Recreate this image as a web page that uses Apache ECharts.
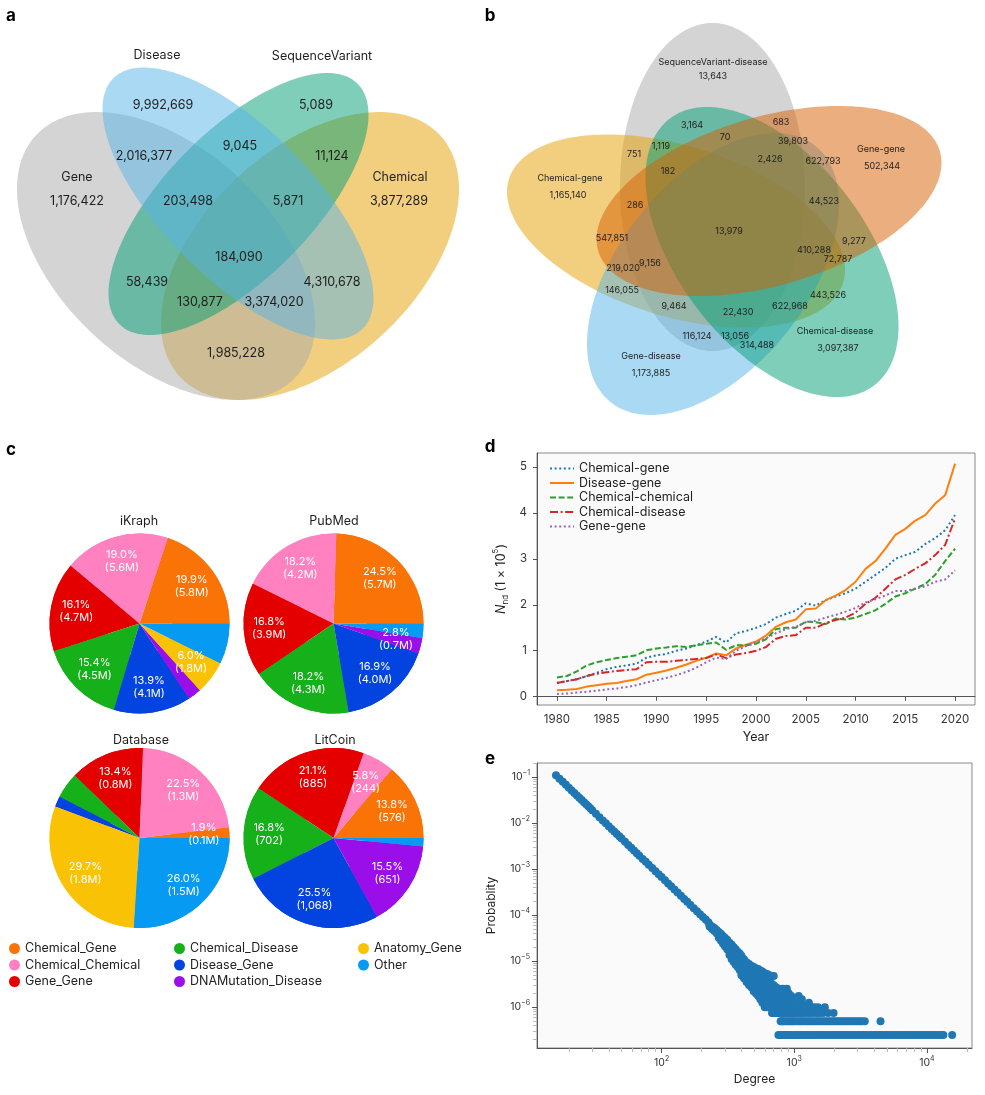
<!DOCTYPE html>
<html>
<head>
<meta charset="utf-8">
<script src="https://cdn.jsdelivr.net/npm/echarts@6/dist/echarts.min.js"></script>
<style>html,body{margin:0;padding:0;background:#fff}#c{width:985px;height:1095px}</style>
</head>
<body>
<div id="c"></div>
<script>
const FONT = 'Inter, "Noto Sans", sans-serif';
const fmt = n => n.toLocaleString('en-US');

// ---------------- Panel a (4-set Venn) ----------------
const vennASetNames = ['Gene', 'Disease', 'SequenceVariant', 'Chemical'];
const vennARegionCounts = [1176422, 9992669, 5089, 3877289, 2016377, 9045, 11124, 203498, 5871, 184090, 58439, 4310678, 130877, 3374020, 1985228];

// ---------------- Panel b (5-set Venn) ----------------
const vennBSetNames = ['SequenceVariant-disease', 'Gene-gene', 'Chemical-gene', 'Chemical-disease', 'Gene-disease'];
const vennBSetOnlyCounts = [13643, 502344, 1165140, 3097387, 1173885];
const vennBRegionCounts = [3164, 683, 70, 39803, 1119, 751, 2426, 622793, 182, 44523, 286, 13979, 547851, 9277, 410288, 72787, 219020, 9156, 146055, 443526, 9464, 622968, 22430, 116124, 13056, 314488];

// ---------------- Panel c (pies) ----------------
const pieCategories = ['Chemical_Gene', 'Chemical_Chemical', 'Gene_Gene', 'Chemical_Disease', 'Disease_Gene', 'DNAMutation_Disease', 'Anatomy_Gene', 'Other'];
const ikraphPct   = [19.9, 19.0, 16.1, 15.4, 13.9, 2.4, 6.0, 7.3];
const ikraphCount = ['5.8M', '5.6M', '4.7M', '4.5M', '4.1M', '', '1.8M', '2.1M'];
const pubmedPct   = [24.5, 18.2, 16.8, 18.2, 16.9, 2.8, 0, 2.6];
const pubmedCount = ['5.7M', '4.2M', '3.9M', '4.3M', '4.0M', '0.7M', '', ''];
const databasePct   = [1.9, 22.5, 13.4, 4.6, 1.9, 0, 29.7, 26.0];
const databaseCount = ['0.1M', '1.3M', '0.8M', '0.3M', '', '', '1.8M', '1.5M'];
const litcoinPct   = [13.8, 5.8, 21.1, 16.8, 25.5, 15.5, 0, 1.5];
const litcoinCount = ['576', '244', '885', '702', '1,068', '651', '', ''];

// ---------------- Panel d (lines) ----------------
const years = [1980,1981,1982,1983,1984,1985,1986,1987,1988,1989,1990,1991,1992,1993,1994,1995,1996,1997,1998,1999,2000,2001,2002,2003,2004,2005,2006,2007,2008,2009,2010,2011,2012,2013,2014,2015,2016,2017,2018,2019,2020];
const chemicalGene     = [0.30,0.34,0.38,0.45,0.52,0.60,0.65,0.68,0.72,0.85,0.90,0.93,1.00,1.05,1.12,1.20,1.30,1.18,1.38,1.43,1.50,1.58,1.72,1.80,1.87,2.03,1.98,2.10,2.18,2.25,2.35,2.50,2.65,2.80,3.00,3.08,3.15,3.32,3.45,3.62,3.95];
const diseaseGene      = [0.14,0.15,0.17,0.22,0.25,0.28,0.30,0.34,0.38,0.48,0.52,0.57,0.63,0.70,0.78,0.85,0.94,0.90,1.05,1.13,1.20,1.33,1.52,1.62,1.68,1.90,1.92,2.10,2.20,2.32,2.50,2.78,2.95,3.22,3.52,3.65,3.83,3.95,4.20,4.38,5.07];
const chemicalChemical = [0.42,0.45,0.55,0.68,0.75,0.80,0.84,0.87,0.90,1.01,1.05,1.07,1.10,1.08,1.12,1.15,1.18,1.02,1.12,1.12,1.15,1.25,1.47,1.50,1.50,1.63,1.62,1.58,1.70,1.68,1.72,1.80,1.88,2.02,2.18,2.25,2.35,2.45,2.65,2.95,3.22];
const chemicalDisease  = [0.30,0.34,0.38,0.45,0.50,0.53,0.56,0.58,0.60,0.75,0.76,0.76,0.78,0.80,0.82,0.84,0.92,0.84,0.92,0.95,1.00,1.08,1.26,1.32,1.34,1.50,1.50,1.60,1.67,1.72,1.83,2.02,2.15,2.35,2.55,2.65,2.78,2.90,3.08,3.30,3.88];
const geneGene         = [0.06,0.07,0.09,0.11,0.13,0.16,0.18,0.21,0.25,0.31,0.36,0.41,0.47,0.54,0.63,0.75,0.85,0.82,1.00,1.10,1.18,1.27,1.38,1.47,1.52,1.62,1.65,1.72,1.78,1.85,1.93,2.05,2.12,2.20,2.30,2.30,2.35,2.40,2.50,2.55,2.75];
const lineNames = ['Chemical-gene', 'Disease-gene', 'Chemical-chemical', 'Chemical-disease', 'Gene-gene'];
const yearTicks = [1980, 1985, 1990, 1995, 2000, 2005, 2010, 2015, 2020];
const nTicks = [0, 1, 2, 3, 4, 5];

// ---------------- Panel e (degree distribution) ----------------
const headDegree = [16,17,18,19,20,21,22,23,24,25,26,27,28,29,30,32,34,36,38,40,42,44,46,48,50,53,56,59,62,65,68,72,76,80,85,90,95,100,106,112,118,125,132,140,148,156,165,175,185,195,205,215,225];
const headProb = [0.109,0.092,0.0785,0.0675,0.0586,0.0511,0.0449,0.0397,0.0353,0.0315,0.0282,0.0254,0.0230,0.0208,0.0190,0.0159,0.0134,0.0114,0.00983,0.00852,0.00744,0.00654,0.00578,0.00514,0.00458,0.00390,0.00334,0.00289,0.00252,0.00221,0.00195,0.00166,0.00143,0.00124,0.00105,0.000895,0.00077,0.000667,0.000568,0.000487,0.000421,0.000359,0.000308,0.000262,0.000224,0.000194,0.000166,0.000141,0.000121,0.000104,0.0000907,0.0000795,0.0000700];
const tailCloud = [
  [230, [6.2e-5, 5.6e-5]], [240, [5.6e-5, 5.0e-5]], [250, [5.2e-5, 4.5e-5]], [260, [4.7e-5, 4.0e-5]],
  [270, [4.3e-5, 3.6e-5, 3.2e-5]], [280, [3.9e-5, 3.3e-5, 2.8e-5]], [290, [3.5e-5, 2.9e-5, 2.4e-5]],
  [300, [3.2e-5, 2.6e-5, 2.1e-5]], [312, [2.9e-5, 2.3e-5, 1.8e-5]], [325, [2.5e-5, 2.0e-5, 1.6e-5, 1.35e-5]],
  [338, [2.25e-5, 1.8e-5, 1.4e-5, 1.1e-5]], [350, [2.0e-5, 1.6e-5, 1.25e-5, 9.5e-6]], [362, [1.8e-5, 1.4e-5, 1.1e-5, 8.3e-6]],
  [375, [1.6e-5, 1.25e-5, 9.6e-6, 7.4e-6]], [388, [1.45e-5, 1.1e-5, 8.5e-6, 6.4e-6]], [400, [1.3e-5, 1.0e-5, 7.6e-6, 5.7e-6, 4.9e-6]],
  [418, [1.1e-5, 8.6e-6, 6.6e-6, 5.2e-6, 4.2e-6]], [437, [9.4e-6, 7.4e-6, 5.7e-6, 4.4e-6, 3.5e-6]],
  [456, [8.6e-6, 6.7e-6, 5.2e-6, 4.0e-6, 3.0e-6]], [475, [7.9e-6, 6.2e-6, 4.7e-6, 3.5e-6, 2.7e-6]],
  [495, [7.4e-6, 5.7e-6, 4.4e-6, 3.2e-6, 2.5e-6, 2.2e-6]], [515, [7.0e-6, 5.4e-6, 4.0e-6, 3.0e-6, 2.2e-6, 1.98e-6]],
  [535, [6.7e-6, 5.2e-6, 3.7e-6, 2.7e-6, 1.98e-6, 1.73e-6]], [555, [6.2e-6, 4.9e-6, 3.5e-6, 2.5e-6, 1.73e-6, 1.48e-6]],
  [575, [5.9e-6, 4.4e-6, 3.2e-6, 2.2e-6, 1.73e-6, 1.48e-6, 1.24e-6]], [600, [5.4e-6, 4.2e-6, 2.96e-6, 2.2e-6, 1.48e-6, 1.24e-6, 9.9e-7]],
  [625, [5.2e-6, 3.7e-6, 2.7e-6, 1.98e-6, 1.48e-6, 1.24e-6, 9.9e-7]], [650, [4.9e-6, 3.5e-6, 2.5e-6, 1.73e-6, 1.24e-6, 9.9e-7]],
  [675, [4.7e-6, 3.2e-6, 2.2e-6, 1.73e-6, 1.24e-6, 9.9e-7]], [700, [4.7e-6, 2.96e-6, 2.2e-6, 1.48e-6, 9.9e-7]],
  [730, [2.7e-6, 1.98e-6, 1.48e-6, 9.9e-7]], [760, [2.5e-6, 1.73e-6, 1.24e-6, 9.9e-7]], [790, [2.2e-6, 1.48e-6, 9.9e-7]],
  [820, [2.5e-6, 1.73e-6, 1.24e-6]], [850, [1.98e-6, 1.48e-6, 9.9e-7]], [880, [2.5e-6, 1.24e-6]], [910, [1.98e-6, 1.48e-6, 9.9e-7]],
  [950, [1.73e-6, 1.24e-6]], [990, [1.48e-6, 9.9e-7]], [1030, [1.24e-6]], [1080, [1.73e-6, 9.9e-7]], [1140, [1.48e-6, 1.24e-6]],
  [1200, [9.9e-7]], [1290, [1.24e-6]], [1340, [9.9e-7]], [1420, [9.9e-7]], [1510, [9.9e-7]], [1700, [9.9e-7]]
];
const levelProb = [2.47e-7, 4.94e-7, 7.41e-7];
const band1Degree = [760,790,820,850,880,910,950,990,1030,1070,1110,1160,1210,1260,1310,1370,1430,1490,1560,1630,1700,1780,1860,1940,2030,2120,2220,2320,2430,2540,2660,2790,2920,3060,3200,3350,3500,3660,3830,4010,4200,4400,4600,4820,5050,5300,5550,5800,6100,6400,6700,7000,7300,7700,8000,8400,8800,9200,9600,10100,10600,11100,11600,12200,12800,13300,15500];
const band2Degree = [790,810,830,860,890,920,950,980,1010,1050,1090,1130,1170,1220,1270,1320,1370,1430,1490,1550,1620,1690,1760,1840,1920,2000,2090,2180,2280,2380,2490,2600,2720,2840,2970,3100,3240,3400,4470];
const band3Degree = [680,700,720,740,760,780,800,830,860,890,920,950,990,1030,1070,1110,1160,1210,1270,1330,1400,1480,1560,1650,1800,1980];
const degreeTickExp = [2, 3, 4];
const probTickExp = [-1, -2, -3, -4, -5, -6];

// ================= layout / style =================
const TXT = '#1e1e1e';
function ellipsePts(e) {
  const l21 = e.sxy / e.W, l22 = Math.sqrt(e.H * e.H - l21 * l21);
  const pts = [];
  for (let i = 0; i < 200; i++) {
    const t = i / 200 * Math.PI * 2;
    pts.push([e.c[0] + e.W * Math.cos(t), e.c[1] + l21 * Math.cos(t) + l22 * Math.sin(t)]);
  }
  return pts;
}
const vennAEllipses = [
  {c: [310, 256], W: 149, H: 144, sxy: -10000, fill: 'rgba(230,159,0,0.5)'},
  {c: [166, 256], W: 149, H: 144, sxy: 10000, fill: 'rgba(169,169,169,0.5)'},
  {c: [238.5, 204], W: 130, H: 131, sxy: -11600, fill: 'rgba(0,158,115,0.5)'},
  {c: [238, 203.5], W: 135.5, H: 136, sxy: 12800, fill: 'rgba(86,180,233,0.5)'}
];
const vennASetNamePos = [[77, 177], [157, 55], [322, 56], [400, 177]];
const vennARegionPos = [[77,201],[163,105],[316,105],[399,201],[144,156],[240,146],[332,156],[188,201],[288,201],[239,257],[147,282],[332,282],[200,302],[274,302],[236,353]];

const vennBEllipses = [
  {c: [712.5, 187], W: 92.5, H: 164, sxy: 0, fill: 'rgba(169,169,169,0.5)'},
  {c: [676, 231], W: 169, H: 96.5, sxy: 6600, fill: 'rgba(230,159,0,0.5)'},
  {c: [713, 274], W: 126, H: 141, sxy: -8800, fill: 'rgba(86,180,233,0.5)'},
  {c: [772, 252], W: 126.5, H: 145, sxy: 9400, fill: 'rgba(0,158,115,0.5)'},
  {c: [769, 201], W: 172.5, H: 95, sxy: -6600, fill: 'rgba(213,94,0,0.5)'}
];
const vennBSetNamePos = [[713, 62], [881, 149], [570, 178], [835, 331], [651, 356]];
const vennBSetCountPos = [[713, 76], [882, 166], [568, 195], [838, 348], [651, 373]];
const vennBRegionPos = [[692,125],[781,122],[725,137],[793,141],[661,146],[634,154],[770,159],[823,161],[668,171],[824,201],[635,205],[729,231],[612,238],[854,241],[814,250],[838,259],[623,268],[650,263],[622,290],[828,295],[674,306],[790,306],[738,312],[697,336],[735,336],[757,345]];

function txt(x, y, s, size, extra) {
  return {
    type: 'text', x: x, y: y, z: 10,
    style: Object.assign({text: s, fill: TXT, fontSize: size, fontFamily: FONT,
      textAlign: 'center', textVerticalAlign: 'middle', align: 'center', verticalAlign: 'middle'}, extra || {})
  };
}

const graphics = [];
vennAEllipses.forEach(e => graphics.push({type: 'polygon', z: 1, shape: {points: ellipsePts(e)}, style: {fill: e.fill}}));
vennBEllipses.forEach(e => graphics.push({type: 'polygon', z: 1, shape: {points: ellipsePts(e)}, style: {fill: e.fill}}));
vennASetNames.forEach((n, i) => graphics.push(txt(vennASetNamePos[i][0], vennASetNamePos[i][1], n, 12.5)));
vennARegionCounts.forEach((v, i) => graphics.push(txt(vennARegionPos[i][0], vennARegionPos[i][1], fmt(v), 12.5)));
vennBSetNames.forEach((n, i) => graphics.push(txt(vennBSetNamePos[i][0], vennBSetNamePos[i][1], n, 9)));
vennBSetOnlyCounts.forEach((v, i) => graphics.push(txt(vennBSetCountPos[i][0], vennBSetCountPos[i][1], fmt(v), 9)));
vennBRegionCounts.forEach((v, i) => graphics.push(txt(vennBRegionPos[i][0], vennBRegionPos[i][1], fmt(v), 9)));
[['a', 11, 16], ['b', 490, 16], ['c', 11, 450], ['d', 490, 447], ['e', 490, 759]].forEach(p =>
  graphics.push(txt(p[1], p[2], p[0], 17, {fontWeight: 'bold', fill: '#000'})));
[['iKraph', 139, 521], ['PubMed', 334, 521], ['Database', 141, 740], ['LitCoin', 335, 740]].forEach(p =>
  graphics.push(txt(p[1], p[2], p[0], 12.5)));

// ================= pies =================
const pieColors = ['#f97306', '#ff81c0', '#e50000', '#15b01a', '#0343df', '#9a0eea', '#fac205', '#069af3'];
function pieSeries(pct, cnt, cx, cy) {
  const base = pieCategories.map((c, i) => ({name: c, value: pct[i], itemStyle: {color: pieColors[i]}}));
  const labelled = pieCategories.map((c, i) => ({
    name: c, value: pct[i], itemStyle: {color: pieColors[i]},
    label: {show: cnt[i] !== '', formatter: pct[i].toFixed(1) + '%\n(' + cnt[i] + ')'}
  }));
  const common = {type: 'pie', center: [cx, cy], startAngle: 0, clockwise: false, silent: true,
    labelLine: {show: false}, emphasis: {disabled: true}, avoidLabelOverlap: false};
  return [
    Object.assign({}, common, {radius: [0, 90], data: base, label: {show: false}}),
    Object.assign({}, common, {radius: [33, 90], data: labelled,
      label: {position: 'inside', color: '#fff', fontSize: 11, lineHeight: 13, fontFamily: FONT}})
  ];
}

// ================= axes =================
const supRich = {
  b: {fontSize: 10.5, fontFamily: FONT, color: '#333', lineHeight: 15},
  s: {fontSize: 7, fontFamily: FONT, color: '#333', lineHeight: 8, verticalAlign: 'top'}
};
const expLabel = v => { const n = Math.round(v); return '{b|10}{s|' + (n < 0 ? '\u2212' + (-n) : n) + '}'; };
const xMinor = [], yMinor = [];
[1, 2, 3, 4].forEach(d => { for (let k = 2; k <= 9; k++) { const v = d + Math.log10(k); if (v > 1.061 && v < 4.34) xMinor.push(v); } });
[-7, -6, -5, -4, -3, -2, -1].forEach(d => { for (let k = 2; k <= 9; k++) { const v = d + Math.log10(k); if (v > -6.89 && v < -0.696) yMinor.push(v); } });

const axisBase = {
  axisLine: {show: true, lineStyle: {color: '#555', width: 1}},
  splitLine: {show: false}
};

const xAxis = [
  Object.assign({}, axisBase, {type: 'value', gridIndex: 0, min: 1978, max: 2022,
    name: 'Year', nameLocation: 'middle', nameGap: 26, nameTextStyle: {fontSize: 12.5, color: '#222', fontFamily: FONT},
    axisTick: {show: true, customValues: yearTicks, length: 4, lineStyle: {color: '#555'}},
    axisLabel: {customValues: yearTicks, margin: 9, fontSize: 11.5, color: '#333', fontFamily: FONT, formatter: v => String(Math.round(v))}}),
  Object.assign({}, axisBase, {type: 'value', gridIndex: 1, min: 1.061, max: 4.34,
    name: 'Degree', nameLocation: 'middle', nameGap: 25, nameTextStyle: {fontSize: 12, color: '#222', fontFamily: FONT},
    axisTick: {show: true, customValues: degreeTickExp, length: 5, lineStyle: {color: '#555'}},
    axisLabel: {customValues: degreeTickExp, margin: 7, formatter: expLabel, rich: supRich}}),
  {type: 'value', gridIndex: 1, min: 1.061, max: 4.34, position: 'bottom',
    axisLine: {show: false}, splitLine: {show: false}, axisLabel: {show: false},
    axisTick: {show: true, customValues: xMinor, length: 4, lineStyle: {color: '#bbb'}}}
];
const yAxis = [
  Object.assign({}, axisBase, {type: 'value', gridIndex: 0, min: -0.18, max: 5.3,
    name: '{i|N}{sub|nd}{t| (1 \u00d7 10}{sup|5}{t|)}', nameLocation: 'middle', nameGap: 27, nameRotate: 90,
    nameTextStyle: {rich: {
      i: {fontSize: 12.5, fontStyle: 'italic', color: '#222', fontFamily: FONT, lineHeight: 18},
      sub: {fontSize: 8, color: '#222', fontFamily: FONT, lineHeight: 10, verticalAlign: 'bottom'},
      t: {fontSize: 12.5, color: '#222', fontFamily: FONT, lineHeight: 18},
      sup: {fontSize: 8, color: '#222', fontFamily: FONT, lineHeight: 10, verticalAlign: 'top'}}},
    axisTick: {show: true, customValues: nTicks, length: 4, lineStyle: {color: '#555'}},
    axisLabel: {customValues: nTicks, margin: 10, fontSize: 11.5, color: '#333', fontFamily: FONT, formatter: v => String(Math.round(v))}}),
  Object.assign({}, axisBase, {type: 'value', gridIndex: 1, min: -6.89, max: -0.696,
    name: 'Probablity', nameLocation: 'middle', nameGap: 40, nameRotate: 90, nameTextStyle: {fontSize: 12, color: '#222', fontFamily: FONT},
    axisTick: {show: true, customValues: probTickExp, length: 5, lineStyle: {color: '#555'}},
    axisLabel: {customValues: probTickExp, margin: 7, formatter: expLabel, rich: supRich}}),
  {type: 'value', gridIndex: 1, min: -6.89, max: -0.696, position: 'left',
    axisLine: {show: false}, splitLine: {show: false}, axisLabel: {show: false},
    axisTick: {show: true, customValues: yMinor, length: 4, lineStyle: {color: '#bbb'}}}
];

// ================= series =================
const lineValues = [chemicalGene, diseaseGene, chemicalChemical, chemicalDisease, geneGene];
const lineColors = ['#1f77b4', '#ff7f0e', '#2ca02c', '#d62728', '#9467bd'];
const lineDash = [[2, 2.6], 'solid', [6, 2.6], [8, 2.6, 2, 2.6], [2, 2.6]];
const series = [];
lineNames.forEach((n, k) => series.push({
  type: 'line', name: n, xAxisIndex: 0, yAxisIndex: 0, symbol: 'none', silent: true,
  data: years.map((y, i) => [y, lineValues[k][i]]),
  lineStyle: {color: lineColors[k], width: 2, type: lineDash[k]}, itemStyle: {color: lineColors[k]}
}));

const scatterData = [];
headDegree.forEach((d, i) => scatterData.push([Math.log10(d), Math.log10(headProb[i])]));
tailCloud.forEach(p => p[1].forEach(q => scatterData.push([Math.log10(p[0]), Math.log10(q)])));
[band1Degree, band2Degree, band3Degree].forEach((arr, k) => arr.forEach(d => scatterData.push([Math.log10(d), Math.log10(levelProb[k])])));
series.push({type: 'scatter', xAxisIndex: 1, yAxisIndex: 1, symbolSize: 8, silent: true,
  itemStyle: {color: '#1f77b4', opacity: 1}, data: scatterData});

series.push(...pieSeries(ikraphPct, ikraphCount, 139.5, 623.5));
series.push(...pieSeries(pubmedPct, pubmedCount, 333.5, 623.5));
series.push(...pieSeries(databasePct, databaseCount, 139.5, 838));
series.push(...pieSeries(litcoinPct, litcoinCount, 333.5, 838));

// ================= legends =================
const pieLegend = (names, left) => ({
  data: names, orient: 'vertical', left: left, top: 937, icon: 'circle', itemWidth: 11, itemHeight: 11, itemGap: 3.5,
  selectedMode: false, textStyle: {fontSize: 12.5, color: '#222', fontFamily: FONT}
});
const legend = [
  {data: lineNames, orient: 'vertical', left: 544, top: 457, itemWidth: 24, itemHeight: 10, itemGap: 1.5,
    itemStyle: {opacity: 0}, selectedMode: false, textStyle: {fontSize: 12.5, color: '#222', fontFamily: FONT}},
  pieLegend(pieCategories.slice(0, 3), 4),
  pieLegend(pieCategories.slice(3, 6), 169),
  pieLegend(pieCategories.slice(6, 8), 353)
];

const option = {
  backgroundColor: '#fff',
  animation: false,
  textStyle: {fontFamily: FONT},
  grid: [
    {left: 537, top: 453, width: 438, height: 252, show: true, backgroundColor: '#fafafa', borderColor: '#8a8a8a', borderWidth: 1},
    {left: 537, top: 763, width: 435, height: 285, show: true, backgroundColor: '#fafafa', borderColor: '#8a8a8a', borderWidth: 1}
  ],
  xAxis: xAxis,
  yAxis: yAxis,
  legend: legend,
  series: series,
  graphic: {elements: graphics}
};
const chart = echarts.init(document.getElementById('c'), null, {renderer: 'canvas'});
chart.setOption(option);
</script>
</body>
</html>
